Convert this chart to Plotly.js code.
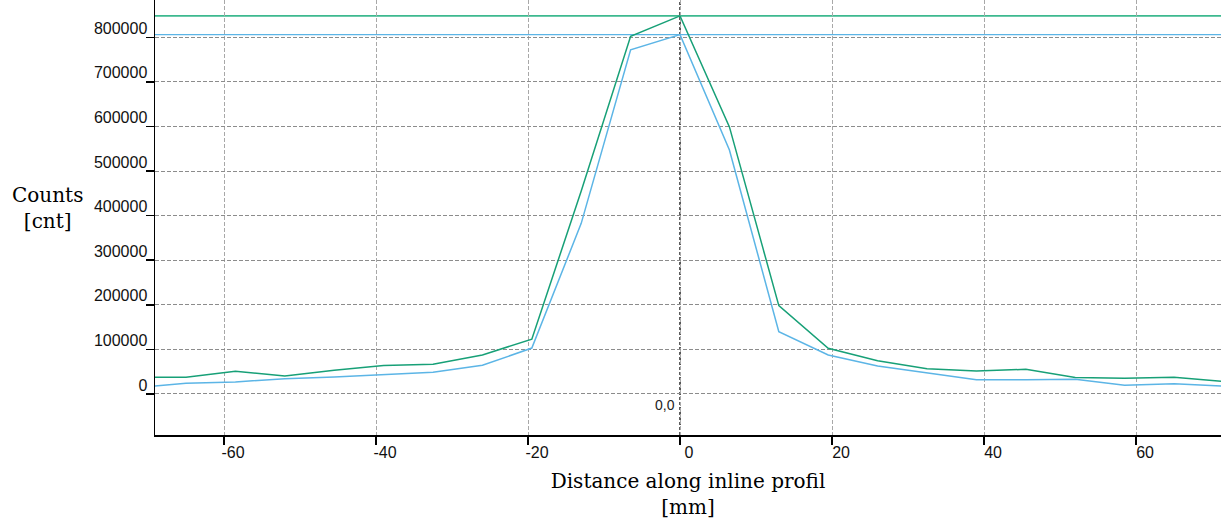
<!DOCTYPE html>
<html>
<head>
<meta charset="utf-8">
<script src="https://cdn.plot.ly/plotly-3.0.1.min.js"></script>
<style>html,body{margin:0;padding:0;background:#fff;}#chart{width:1221px;height:531px;}</style>
</head>
<body>
<div id="chart"></div>
<script>
const distance = [-71.5,-65,-58.5,-52,-45.5,-39,-32.5,-26,-19.5,-13,-6.5,0,6.5,13,19.5,26,32.5,39,45.5,52,58.5,65,71.5];
const countsGreen = [37400,37400,50900,40300,53000,63900,66600,87400,123000,455000,802000,848000,599000,198000,102400,74700,56700,51500,55300,37000,35500,37400,28000];
const countsBlue = [14500,24000,26900,34300,38000,42600,48600,64300,103000,382700,772000,806000,547000,139700,87400,62800,47800,32100,32000,33000,19500,23100,17600];
const xTicks = [-60,-40,-20,0,20,40,60];
const yTicks = [0,100000,200000,300000,400000,500000,600000,700000,800000];

const green = '#17a077';
const blue = '#5cb5e6';
const maxGreen = Math.max(...countsGreen);
const maxBlue = Math.max(...countsBlue);

const traces = [
  {x: distance, y: countsGreen, type: 'scatter', mode: 'lines', line: {color: green, width: 1.5}, hoverinfo: 'none'},
  {x: distance, y: countsBlue, type: 'scatter', mode: 'lines', line: {color: blue, width: 1.5}, hoverinfo: 'none'}
];

const serif = 'DejaVu Serif, serif';
const sans = 'Liberation Sans, Arial, sans-serif';

const layout = {
  width: 1221, height: 531,
  margin: {l: 155, r: 0, t: 0, b: 96, pad: 0},
  paper_bgcolor: '#fff', plot_bgcolor: '#fff',
  showlegend: false,
  xaxis: {
    range: [-69.08, 71.18],
    tickmode: 'array', tickvals: xTicks, ticktext: xTicks.map(String),
    ticks: 'outside', ticklen: 8, tickwidth: 1.5, tickcolor: '#000',
    ticklabelshift: 9, ticklabelstandoff: -6,
    tickfont: {family: sans, size: 16, color: '#111'},
    showline: true, linecolor: '#000', linewidth: 1.5,
    showgrid: true, gridcolor: '#a8a8a8', griddash: '4px,2px', gridwidth: 1,
    zeroline: false,
    title: {text: 'Distance along inline profil<br>[mm]', font: {family: serif, size: 20, color: '#000'}, standoff: 14}
  },
  yaxis: {
    range: [-92000, 883600],
    tickmode: 'array', tickvals: yTicks, ticktext: yTicks.map(String),
    ticks: 'outside', ticklen: 8, tickwidth: 1.5, tickcolor: '#000',
    ticklabelshift: -9, ticklabelstandoff: -5,
    tickfont: {family: sans, size: 16, color: '#111'},
    showline: true, linecolor: '#000', linewidth: 1.5,
    showgrid: true, gridcolor: '#8c8c8c', griddash: '4px,2px', gridwidth: 1,
    zeroline: false
  },
  shapes: [
    {type: 'line', xref: 'x', yref: 'paper', x0: 0, x1: 0, y0: 0, y1: 1, layer: 'below', line: {color: '#000', width: 1.3, dash: '3px,2px'}},
    {type: 'line', xref: 'paper', yref: 'y', x0: 0, x1: 1, y0: maxGreen, y1: maxGreen, layer: 'below', line: {color: '#3db98f', width: 1.6}},
    {type: 'line', xref: 'paper', yref: 'y', x0: 0, x1: 1, y0: maxBlue, y1: maxBlue, layer: 'below', line: {color: blue, width: 1.4}}
  ],
  annotations: [
    {x: 0, y: 0, xref: 'x', yref: 'y', text: '0,0', showarrow: false, xanchor: 'right', yanchor: 'top', xshift: -3, yshift: -1, font: {family: sans, size: 14, color: '#222'}},
    {x: -0.1004, y: 0.5207, xref: 'paper', yref: 'paper', text: 'Counts<br>[cnt]', showarrow: false, xanchor: 'center', yanchor: 'middle', align: 'center', font: {family: serif, size: 20, color: '#000'}}
  ]
};

Plotly.newPlot('chart', traces, layout, {staticPlot: true, displayModeBar: false});
</script>
</body>
</html>
